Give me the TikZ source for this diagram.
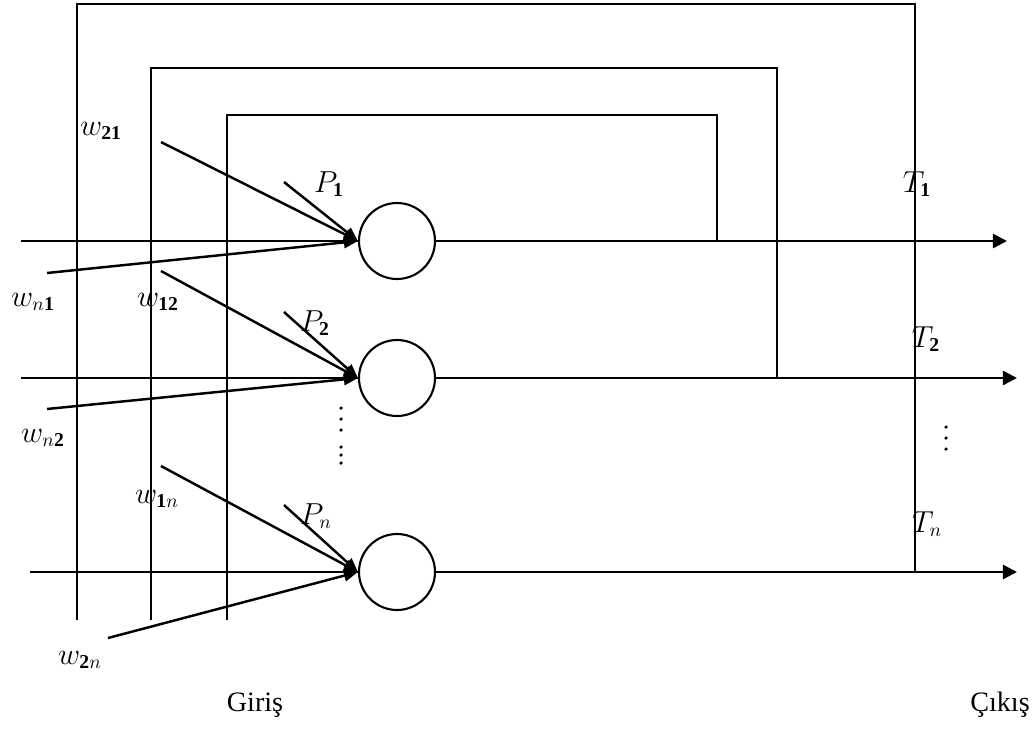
\documentclass[tikz,border=0pt]{standalone}
\usepackage{fontspec}
\setmainfont{Liberation Serif}
\usetikzlibrary{arrows.meta}

\tikzset{
  wire/.style={line width=0.6pt},
  wgt/.style={line width=1.4pt,-{Triangle[length=8pt,width=6.5pt]}},
  outarrow/.style={line width=1.4pt,-{Triangle[length=8pt,width=8pt]}},
  neuron/.style={circle,draw,line width=1.2pt,minimum size=1.52cm,inner sep=0pt},
  lbl/.style={font=\fontsize{16}{19}\selectfont,inner sep=0pt}
}

\begin{document}
\begin{tikzpicture}[x=0.02cm,y=-0.02cm]
  \useasboundingbox (0,0) rectangle (1036,731);

  % neurons
  \node[neuron] (n1) at (397,241) {};
  \node[neuron] (n2) at (397,378) {};
  \node[neuron] (n3) at (397,572) {};

  % outputs
  \coordinate (o1) at (1007,241);
  \coordinate (o2) at (1017,378);
  \coordinate (o3) at (1017,572);
  \draw[outarrow] (n1) -- (o1);
  \draw[outarrow] (n2) -- (o2);
  \draw[outarrow] (n3) -- (o3);

  % feedback loops back to the input side
  \coordinate (f1) at (717,241);
  \coordinate (f2) at (777,378);
  \coordinate (f3) at (915,572);
  \coordinate (b1) at (227,620);
  \coordinate (b2) at (151,620);
  \coordinate (b3) at (77,620);
  \draw[wire] (f1) -- ++(0,-126) -| (b1);
  \draw[wire] (f2) -- ++(0,-310) -| (b2);
  \draw[wire] (f3) -- ++(0,-568) -| (b3);

  % plain inputs
  \coordinate (a1) at (21,241);
  \coordinate (a2) at (21,378);
  \coordinate (a3) at (30,572);
  \draw[wire] (a1) -- (n1.west);
  \draw[wire] (a2) -- (n2.west);
  \draw[wire] (a3) -- (n3.west);

  % weighted inputs
  \coordinate (s21) at (161,142);
  \coordinate (sp1) at (284,182);
  \coordinate (sn1) at (47,273);
  \coordinate (s12) at (161,271);
  \coordinate (sp2) at (284,312);
  \coordinate (sn2) at (47,409);
  \coordinate (s1n) at (161,466);
  \coordinate (spn) at (284,505);
  \coordinate (s2n) at (108,638);
  \draw[wgt] (s21) -- (n1.west);
  \draw[wgt] (sp1) -- (n1.west);
  \draw[wgt] (sn1) -- (n1.west);
  \draw[wgt] (s12) -- (n2.west);
  \draw[wgt] (sp2) -- (n2.west);
  \draw[wgt] (sn2) -- (n2.west);
  \draw[wgt] (s1n) -- (n3.west);
  \draw[wgt] (spn) -- (n3.west);
  \draw[wgt] (s2n) -- (n3.west);

  % dots between the rows
  \foreach \y in {408,419,430,447,455,463}
    \fill (341,\y) circle (1pt);
  \foreach \y in {427,438,449}
    \fill (946,\y) circle (1pt);

  % labels
  \node[lbl] (l21) at (101,131) {$w_{\mathbf{21}}$};
  \node[lbl] (ln1) at (33,302) {$w_{n\mathbf{1}}$};
  \node[lbl] (l12) at (158,302) {$w_{\mathbf{12}}$};
  \node[lbl] (ln2) at (43,438) {$w_{n\mathbf{2}}$};
  \node[lbl] (l1n) at (157,499) {$w_{\mathbf{1}n}$};
  \node[lbl] (l2n) at (80,660) {$w_{\mathbf{2}n}$};
  \node[lbl] (lp1) at (329,184) {$P_{\mathbf{1}}$};
  \node[lbl] (lp2) at (315,323) {$P_{\mathbf{2}}$};
  \node[lbl] (lpn) at (316,516) {$P_n$};
  \node[lbl] (lt1) at (917,184) {$T_{\mathbf{1}}$};
  \node[lbl] (lt2) at (926,339) {$T_{\mathbf{2}}$};
  \node[lbl] (ltn) at (927,524) {$T_n$};
  \node[lbl] (giris) at (255,705) {Giriş};
  \node[lbl] (cikis) at (1000,705) {Çıkış};
\end{tikzpicture}
\end{document}
